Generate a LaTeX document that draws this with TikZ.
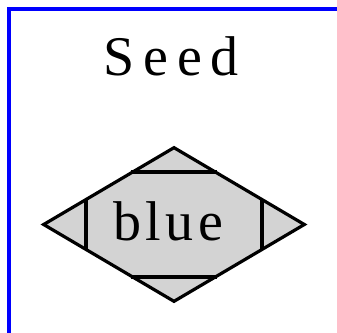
\documentclass[tikz,border=0pt]{standalone}
\usepackage{fontspec}
\setmainfont{Liberation Serif}
\usetikzlibrary{shapes.geometric,calc}
\definecolor{nodegray}{HTML}{D3D3D3}
\tikzset{
  frame/.style={draw=blue, line width=4pt},
  mdiam/.style={diamond, draw=black, fill=nodegray, line width=3.2pt, inner sep=0pt,
    minimum width=262pt, minimum height=155pt, font=\fontsize{56}{60}\selectfont},
  cutline/.style={draw=black, line width=3.2pt, shorten <=1.2pt, shorten >=1.2pt},
  lbl/.style={font=\fontsize{56}{60}\selectfont, inner sep=0pt}
}
\begin{document}
\begin{tikzpicture}[x=1pt,y=-1pt]
\useasboundingbox (0,0) rectangle (337,332);
\coordinate (fb) at (9,340);
\coordinate (fc) at (9,8.5);
\coordinate (fr) at (345,8.5);
\draw[frame] (fb) -- (fc) -- (fr);
\node[lbl, anchor=base] (seed) at (171,75) {S\hspace{9pt}e\hspace{9pt}e\hspace{9pt}d};
\node[mdiam] (d) at (174,224.5) {};
\node[lbl, anchor=base] (t) at (168,240) {b\hspace{4.5pt}l\hspace{4.5pt}u\hspace{4.5pt}e};
\draw[cutline] ($(d.west)!0.336!(d.north)$) -- ($(d.west)!0.336!(d.south)$);
\draw[cutline] ($(d.east)!0.336!(d.north)$) -- ($(d.east)!0.336!(d.south)$);
\draw[cutline] ($(d.north)!0.336!(d.west)$) -- ($(d.north)!0.336!(d.east)$);
\draw[cutline] ($(d.south)!0.336!(d.west)$) -- ($(d.south)!0.336!(d.east)$);
\end{tikzpicture}
\end{document}
